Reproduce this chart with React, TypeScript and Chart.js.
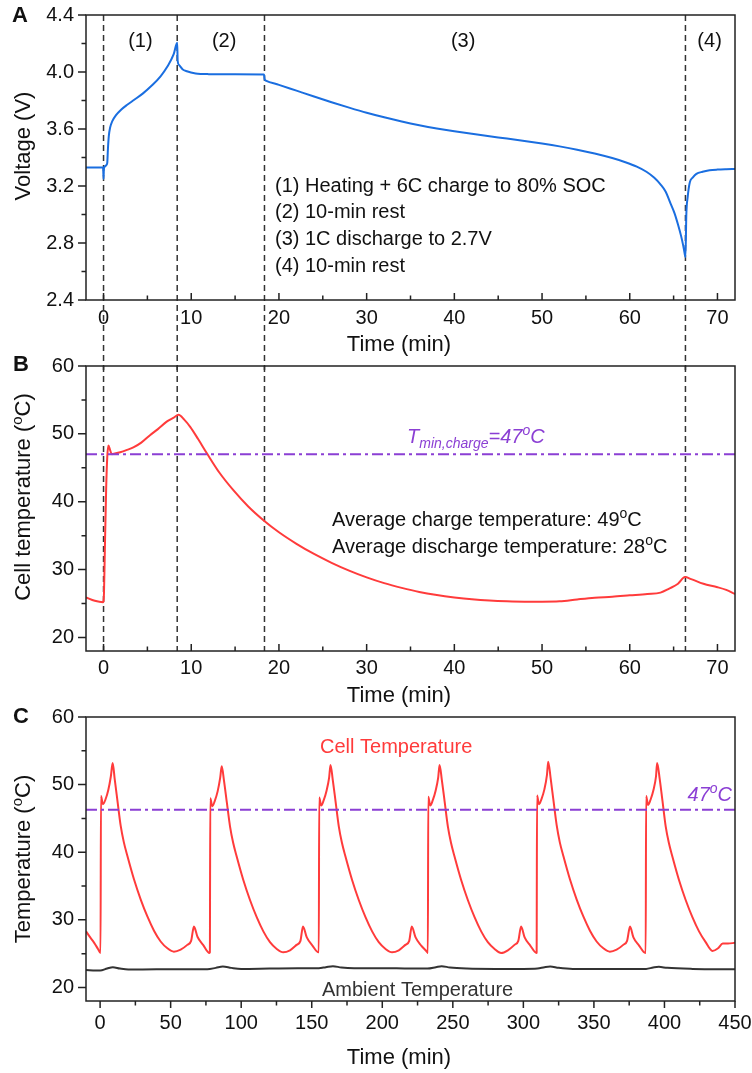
import React, { useEffect, useRef } from 'react';
import { Chart, registerables } from 'chart.js';

Chart.register(...registerables);

const FAMILY = '"Liberation Sans", Arial, Helvetica, sans-serif';
const BLUE = '#1a6ee0';
const RED = '#ff3b3b';
const PURPLE = '#8b3fd4';
const AMBIENT = '#333333';
const AXIS = '#222222';
const TEXT = '#111111';

// ---------------- Panel A : voltage ----------------
const timeA = [-2, -1, -0.05, 0, 0.04, 0.12, 0.3, 0.42, 0.5, 0.6, 0.75, 1.0, 1.4, 2.0, 2.7, 3.5, 4.5, 5.5, 6.5, 7.3, 8.0, 8.4, 8.45, 8.6, 9.0, 9.5, 10.5, 12, 15, 18.3, 18.36, 18.5, 20, 22, 24, 26, 28, 30, 32, 34, 36, 38, 40, 42, 44, 46, 48, 50, 52, 54, 56, 58, 59.5, 60.8, 61.9, 62.8, 63.5, 64.1, 64.6, 65.1, 65.5, 65.85, 66.1, 66.25, 66.35, 66.45, 66.6, 66.85, 67.2, 67.6, 68.3, 69.1, 70, 71, 72];
const voltageA = [3.33, 3.33, 3.33, 3.25, 3.32, 3.335, 3.345, 3.36, 3.46, 3.55, 3.61, 3.655, 3.695, 3.735, 3.77, 3.805, 3.85, 3.905, 3.97, 4.04, 4.125, 4.205, 4.08, 4.05, 4.02, 4.005, 3.99, 3.985, 3.984, 3.983, 3.95, 3.94, 3.91, 3.869, 3.828, 3.788, 3.75, 3.714, 3.682, 3.653, 3.627, 3.604, 3.584, 3.566, 3.549, 3.533, 3.516, 3.498, 3.478, 3.455, 3.428, 3.396, 3.367, 3.336, 3.3, 3.258, 3.212, 3.16, 3.085, 3.01, 2.93, 2.85, 2.78, 2.73, 2.70, 3.0, 3.12, 3.226, 3.26, 3.285, 3.30, 3.31, 3.315, 3.318, 3.32];
const xTicksA = [0, 10, 20, 30, 40, 50, 60, 70];
const yTicksA = [2.4, 2.8, 3.2, 3.6, 4.0, 4.4];
const phaseBoundaries = [0, 8.4, 18.35, 66.35];
const phaseLabels = ['(1)', '(2)', '(3)', '(4)'];
const phaseLabelTimes = [4.2, 13.75, 41, 69.1];
const stepLegend = [
  '(1) Heating + 6C charge to 80% SOC',
  '(2) 10-min rest',
  '(3) 1C discharge to 2.7V',
  '(4) 10-min rest',
];

// ---------------- Panel B : cell temperature, one cycle ----------------
const timeB = [-2, -1, -0.05, 0.05, 0.15, 0.3, 0.42, 0.55, 0.75, 0.95, 1.3, 1.9, 2.6, 3.4, 4.3, 5.3, 6.2, 7.2, 8.0, 8.55, 9.2, 9.9, 10.8, 11.8, 13.2, 14.8, 16.5, 18.3, 20, 22, 24, 26, 28, 30, 32, 34, 36, 38, 40, 42, 44, 46, 48, 50, 52, 54, 56, 58, 60, 62, 63.5, 64.5, 65.5, 66.3, 67, 68.4, 70, 71, 72];
const tempB = [25.9, 25.4, 25.2, 26.5, 33, 42, 46.5, 48.3, 47.6, 47.0, 47.1, 47.3, 47.6, 48.0, 48.7, 49.8, 50.7, 51.8, 52.4, 52.8, 52.1, 51.0, 49.2, 47.1, 44.3, 41.7, 39.3, 37.2, 35.5, 33.8, 32.3, 31.0, 29.85, 28.85, 28.0, 27.3, 26.7, 26.25, 25.9, 25.62, 25.43, 25.32, 25.27, 25.27, 25.32, 25.6, 25.85, 26.0, 26.2, 26.4, 26.6, 27.2, 27.9, 28.9, 28.6, 27.9, 27.4, 27.0, 26.4];
const xTicksB = [0, 10, 20, 30, 40, 50, 60, 70];
const yTicksB = [20, 30, 40, 50, 60];
const tMinChargeB = 47;

// ---------------- Panel C : repeated cycles ----------------
const timeCell = [
  -10, -7, -4.2, -1.5,
  0.3, 0.6, 2.0, 3.8, 5.8, 7.6, 8.9, 10.3, 12.3, 14.6, 16.8, 19.4, 24.0, 28.8, 33.5, 38.2, 42.9, 47.7, 52.3, 57.1, 61.8, 64.5, 66.5, 69.0, 73.0, 77.5,
  77.8, 78.1, 79.5, 81.3, 83.3, 85.1, 86.2, 87.8, 89.8, 92.1, 94.3, 96.9, 101.5, 106.3, 111.0, 115.7, 120.4, 125.2, 129.8, 134.6, 139.3, 142.0, 143.8, 146.5, 150.5, 154.8,
  155.0, 155.3, 156.7, 158.5, 160.5, 162.3, 163.3, 164.9, 166.9, 169.2, 171.4, 174.0, 178.6, 183.4, 188.1, 192.8, 197.5, 202.3, 206.9, 211.7, 216.4, 219.1, 220.9, 223.6, 227.6, 232.0,
  232.3, 232.6, 234.0, 235.8, 237.8, 239.6, 240.6, 242.2, 244.2, 246.5, 248.7, 251.3, 255.9, 260.7, 265.4, 270.1, 274.8, 279.6, 284.2, 289.0, 293.7, 296.4, 298.4, 300.9, 304.9, 309.3,
  309.4, 309.7, 311.1, 312.9, 314.9, 316.7, 317.6, 319.3, 321.3, 323.6, 325.8, 328.4, 333.0, 337.8, 342.5, 347.2, 351.9, 356.7, 361.3, 366.1, 370.8, 373.5, 375.6, 378.0, 382.0, 386.5,
  386.7, 387.0, 388.4, 390.2, 392.2, 394.0, 394.8, 396.6, 398.6, 400.9, 403.1, 405.7, 410.3, 415.1, 419.8, 424.5, 429.2, 434.0, 438.0, 441.3, 445, 450,
];
const tempCell = [
  28.3, 27.4, 26.6, 25.7,
  25.1, 48.3, 47.1, 47.8, 49.2, 51.2, 53.2, 50.9, 47.6, 43.9, 41.5, 39.4, 36.0, 33.0, 30.5, 28.4, 26.8, 25.8, 25.3, 25.6, 26.3, 26.9, 29.0, 27.5, 26.3, 25.1,
  25.2, 48.0, 46.8, 47.6, 49.0, 51.0, 52.7, 50.6, 47.4, 43.8, 41.4, 39.3, 35.9, 32.9, 30.4, 28.3, 26.7, 25.7, 25.2, 25.5, 26.3, 26.9, 29.0, 27.4, 26.2, 25.2,
  25.2, 48.1, 46.9, 47.7, 49.1, 51.0, 52.9, 50.7, 47.5, 43.8, 41.4, 39.3, 35.9, 32.9, 30.4, 28.3, 26.7, 25.7, 25.2, 25.5, 26.3, 26.9, 29.0, 27.4, 26.2, 25.2,
  25.1, 48.2, 46.9, 47.7, 49.1, 51.0, 52.9, 50.7, 47.5, 43.8, 41.4, 39.3, 35.9, 32.9, 30.4, 28.3, 26.7, 25.7, 25.1, 25.5, 26.3, 26.9, 29.0, 27.4, 26.2, 25.1,
  25.2, 48.4, 47.1, 47.9, 49.3, 51.4, 53.4, 51.0, 47.7, 44.0, 41.5, 39.4, 36.0, 33.0, 30.5, 28.4, 26.8, 25.8, 25.3, 25.6, 26.3, 26.9, 29.0, 27.4, 26.2, 25.1,
  25.1, 48.3, 47.0, 47.8, 49.2, 51.2, 53.2, 50.9, 47.6, 43.8, 41.4, 39.3, 35.9, 32.9, 30.4, 28.3, 26.7, 25.4, 25.8, 26.5, 26.5, 26.6,
];
const timeAmb = [-10, -3, 0, 5, 9, 14, 20, 40, 60, 76, 82, 87, 93, 100, 120, 140, 155, 160, 165, 171, 180, 200, 220, 232, 238, 242, 248, 260, 280, 300, 310, 315, 319, 325, 335, 350, 370, 387, 392, 396, 402, 420, 450];
const tempAmb = [22.6, 22.5, 22.5, 22.8, 23.0, 22.8, 22.65, 22.7, 22.7, 22.7, 22.9, 23.1, 22.9, 22.75, 22.8, 22.85, 22.85, 23.0, 23.15, 22.95, 22.85, 22.85, 22.8, 22.8, 23.0, 23.15, 22.95, 22.8, 22.75, 22.75, 22.8, 23.0, 23.1, 22.9, 22.75, 22.75, 22.75, 22.75, 22.95, 23.05, 22.9, 22.75, 22.7];
const xTicksC = [0, 50, 100, 150, 200, 250, 300, 350, 400, 450];
const yTicksC = [20, 30, 40, 50, 60];
const tMinChargeC = 46.3;

// ---------------- helpers ----------------
type Seg = { text: string; size: number; italic?: boolean; bold?: boolean; dy?: number };

const fontOf = (s: Seg) => `${s.italic ? 'italic ' : ''}${s.bold ? 'bold ' : ''}${s.size}px ${FAMILY}`;

function drawRich(ctx: CanvasRenderingContext2D, segs: Seg[], x: number, y: number, align: 'left' | 'center' | 'right', color: string) {
  ctx.save();
  ctx.fillStyle = color;
  ctx.textBaseline = 'middle';
  ctx.textAlign = 'left';
  let total = 0;
  const widths = segs.map((s) => {
    ctx.font = fontOf(s);
    const w = ctx.measureText(s.text).width;
    total += w;
    return w;
  });
  let cx = align === 'left' ? x : align === 'center' ? x - total / 2 : x - total;
  segs.forEach((s, i) => {
    ctx.font = fontOf(s);
    ctx.fillText(s.text, cx, y + (s.dy || 0));
    cx += widths[i];
  });
  ctx.restore();
}

function drawRotated(ctx: CanvasRenderingContext2D, segs: Seg[], x: number, y: number, color: string) {
  ctx.save();
  ctx.translate(x, y);
  ctx.rotate(-Math.PI / 2);
  drawRich(ctx, segs, 0, 0, 'center', color);
  ctx.restore();
}

const multiples = (min: number, max: number, step: number) => {
  const out: number[] = [];
  for (let v = Math.ceil(min / step - 1e-9) * step; v <= max + 1e-9; v += step) out.push(+v.toFixed(6));
  return out;
};

const line = (xs: number[], ys: number[], color: string, width: number, extra: any = {}) => ({
  data: xs.map((x, i) => ({ x, y: ys[i] })),
  borderColor: color,
  borderWidth: width,
  pointRadius: 0,
  fill: false,
  cubicInterpolationMode: 'monotone',
  ...extra,
});

interface Spec {
  top: number;
  height: number;
  chartTop: number;
  chartBottom: number;
  xMin: number; xMax: number; yMin: number; yMax: number;
  xTicks: number[]; yTicks: number[];
  xMinorStep: number; yMinorStep: number;
  xInside: boolean;
  xPad: number;
  yDecimals: number;
  vlines?: number[];
  vlinesToCanvasBottom?: boolean;
  datasets: any[];
  decorate: (ctx: CanvasRenderingContext2D, chart: any, off: number) => void;
}

function build(canvas: HTMLCanvasElement, spec: Spec) {
  const decor = {
    id: 'decor',
    beforeDatasetsDraw(chart: any) {
      if (!spec.vlines) return;
      const { ctx, chartArea } = chart;
      const xs = chart.scales.x;
      ctx.save();
      ctx.strokeStyle = '#333';
      ctx.lineWidth = 1.5;
      ctx.setLineDash([6, 4]);
      spec.vlines.forEach((v) => {
        const px = xs.getPixelForValue(v);
        ctx.beginPath();
        ctx.moveTo(px, chartArea.top);
        ctx.lineTo(px, spec.vlinesToCanvasBottom ? chart.height : chartArea.bottom);
        ctx.stroke();
      });
      ctx.restore();
    },
    afterDraw(chart: any) {
      const { ctx, chartArea } = chart;
      const xs = chart.scales.x;
      const ys = chart.scales.y;
      const { left, right, top, bottom } = chartArea;
      ctx.save();
      ctx.strokeStyle = AXIS;
      ctx.lineWidth = 1.5;
      ctx.setLineDash([]);
      ctx.strokeRect(left, top, right - left, bottom - top);
      ctx.beginPath();
      multiples(spec.yMin, spec.yMax, spec.yMinorStep).forEach((v) => {
        const major = spec.yTicks.some((t) => Math.abs(t - v) < 1e-6);
        const py = ys.getPixelForValue(v);
        ctx.moveTo(left, py);
        ctx.lineTo(left - (major ? 8 : 4.5), py);
      });
      multiples(spec.xMin, spec.xMax, spec.xMinorStep).forEach((v) => {
        const major = spec.xTicks.some((t) => Math.abs(t - v) < 1e-6);
        const px = xs.getPixelForValue(v);
        const len = major ? 7 : 4.5;
        ctx.moveTo(px, bottom);
        ctx.lineTo(px, spec.xInside ? bottom - len : bottom + len);
      });
      ctx.stroke();
      ctx.restore();
      spec.decorate(ctx, chart, spec.top);
    },
  };

  return new Chart(canvas, {
    type: 'line',
    data: { datasets: spec.datasets },
    options: {
      animation: false,
      responsive: false,
      maintainAspectRatio: false,
      events: [],
      layout: { padding: { top: spec.chartTop, right: 17, left: 0, bottom: 0 } },
      plugins: { legend: { display: false }, tooltip: { enabled: false } },
      scales: {
        x: {
          type: 'linear',
          min: spec.xMin,
          max: spec.xMax,
          grid: { display: false, drawTicks: false },
          border: { display: false },
          ticks: {
            font: { size: 20, family: FAMILY },
            color: TEXT,
            padding: spec.xPad,
            maxRotation: 0,
            autoSkip: false,
            callback: (v: any) => String(v),
          },
          afterBuildTicks: (s: any) => { s.ticks = spec.xTicks.map((value) => ({ value })); },
          afterFit: (s: any) => {
            s.height = spec.height - spec.chartBottom;
            s.paddingLeft = 0; s.paddingRight = 0; s.paddingTop = 0; s.paddingBottom = 0;
          },
        },
        y: {
          type: 'linear',
          min: spec.yMin,
          max: spec.yMax,
          grid: { display: false, drawTicks: false },
          border: { display: false },
          ticks: {
            font: { size: 20, family: FAMILY },
            color: TEXT,
            padding: 12,
            autoSkip: false,
            callback: (v: any) => Number(v).toFixed(spec.yDecimals),
          },
          afterBuildTicks: (s: any) => { s.ticks = spec.yTicks.map((value) => ({ value })); },
          afterFit: (s: any) => {
            s.width = 86;
            s.paddingLeft = 0; s.paddingRight = 0; s.paddingTop = 0; s.paddingBottom = 0;
          },
        },
      },
    } as any,
    plugins: [decor],
  });
}

// ---------------- panel specs ----------------
const specA: Spec = {
  top: 0, height: 370, chartTop: 15, chartBottom: 300,
  xMin: -2, xMax: 72, yMin: 2.4, yMax: 4.4,
  xTicks: xTicksA, yTicks: yTicksA, xMinorStep: 5, yMinorStep: 0.2,
  xInside: true, xPad: 6, yDecimals: 1,
  vlines: phaseBoundaries, vlinesToCanvasBottom: true,
  datasets: [line(timeA, voltageA, BLUE, 2)],
  decorate: (ctx, chart, off) => {
    const xs = chart.scales.x;
    drawRich(ctx, [{ text: 'A', size: 22, bold: true }], 20, 16 - off, 'center', TEXT);
    drawRotated(ctx, [{ text: 'Voltage (V)', size: 22 }], 24, 146 - off, TEXT);
    drawRich(ctx, [{ text: 'Time (min)', size: 22 }], 399, 345 - off, 'center', TEXT);
    phaseLabels.forEach((l, i) =>
      drawRich(ctx, [{ text: l, size: 20 }], xs.getPixelForValue(phaseLabelTimes[i]), 41 - off, 'center', TEXT));
    stepLegend.forEach((l, i) => drawRich(ctx, [{ text: l, size: 20 }], 275, 186 + i * 26.9 - off, 'left', TEXT));
  },
};

const specB: Spec = {
  top: 340, height: 380, chartTop: 26, chartBottom: 311,
  xMin: -2, xMax: 72, yMin: 18, yMax: 60,
  xTicks: xTicksB, yTicks: yTicksB, xMinorStep: 5, yMinorStep: 5,
  xInside: true, xPad: 5, yDecimals: 0,
  vlines: phaseBoundaries, vlinesToCanvasBottom: false,
  datasets: [
    line([-2, 72], [tMinChargeB, tMinChargeB], PURPLE, 2, { borderDash: [11, 4, 3, 4], cubicInterpolationMode: 'default' }),
    line(timeB, tempB, RED, 2),
  ],
  decorate: (ctx, chart, off) => {
    drawRich(ctx, [{ text: 'B', size: 22, bold: true }], 21, 365 - off, 'center', TEXT);
    drawRotated(ctx, [
      { text: 'Cell temperature (', size: 22 },
      { text: 'o', size: 15, dy: -6 },
      { text: 'C)', size: 22 },
    ], 24, 497 - off, TEXT);
    drawRich(ctx, [{ text: 'Time (min)', size: 22 }], 399, 696 - off, 'center', TEXT);
    drawRich(ctx, [
      { text: 'T', size: 20, italic: true },
      { text: 'min,charge', size: 14, italic: true, dy: 7 },
      { text: '=47', size: 20, italic: true },
      { text: 'o', size: 14, italic: true, dy: -6 },
      { text: 'C', size: 20, italic: true },
    ], 407, 437 - off, 'left', PURPLE);
    drawRich(ctx, [
      { text: 'Average charge temperature: 49', size: 20 },
      { text: 'o', size: 14, dy: -6 },
      { text: 'C', size: 20 },
    ], 332, 520 - off, 'left', TEXT);
    drawRich(ctx, [
      { text: 'Average discharge temperature: 28', size: 20 },
      { text: 'o', size: 14, dy: -6 },
      { text: 'C', size: 20 },
    ], 332, 547 - off, 'left', TEXT);
  },
};

const specC: Spec = {
  top: 700, height: 373, chartTop: 17, chartBottom: 301,
  xMin: -10, xMax: 450, yMin: 18, yMax: 60,
  xTicks: xTicksC, yTicks: yTicksC, xMinorStep: 25, yMinorStep: 5,
  xInside: false, xPad: 10, yDecimals: 0,
  datasets: [
    line([-10, 450], [tMinChargeC, tMinChargeC], PURPLE, 2, { borderDash: [11, 4, 3, 4], cubicInterpolationMode: 'default' }),
    line(timeAmb, tempAmb, AMBIENT, 2),
    line(timeCell, tempCell, RED, 2),
  ],
  decorate: (ctx, chart, off) => {
    drawRich(ctx, [{ text: 'C', size: 22, bold: true }], 21, 717 - off, 'center', TEXT);
    drawRotated(ctx, [
      { text: 'Temperature (', size: 22 },
      { text: 'o', size: 15, dy: -6 },
      { text: 'C)', size: 22 },
    ], 24, 859 - off, TEXT);
    drawRich(ctx, [{ text: 'Time (min)', size: 22 }], 399, 1058 - off, 'center', TEXT);
    drawRich(ctx, [{ text: 'Cell Temperature', size: 20 }], 320, 747 - off, 'left', RED);
    drawRich(ctx, [
      { text: '47', size: 20, italic: true },
      { text: 'o', size: 14, italic: true, dy: -6 },
      { text: 'C', size: 20, italic: true },
    ], 732, 795 - off, 'right', PURPLE);
    drawRich(ctx, [{ text: 'Ambient Temperature', size: 20 }], 322, 990 - off, 'left', AMBIENT);
  },
};

function Panel({ spec }: { spec: Spec }) {
  const ref = useRef<HTMLCanvasElement>(null);
  useEffect(() => {
    if (!ref.current) return;
    const chart = build(ref.current, spec);
    return () => chart.destroy();
  }, [spec]);
  return (
    <canvas
      ref={ref}
      width={752}
      height={spec.height}
      style={{ position: 'absolute', left: 0, top: spec.top, width: 752, height: spec.height, display: 'block' }}
    />
  );
}

export default function App() {
  return (
    <div style={{ position: 'absolute', left: 0, top: 0, width: 752, height: 1073, background: '#ffffff', overflow: 'hidden' }}>
      <Panel spec={specA} />
      <Panel spec={specB} />
      <Panel spec={specC} />
    </div>
  );
}
